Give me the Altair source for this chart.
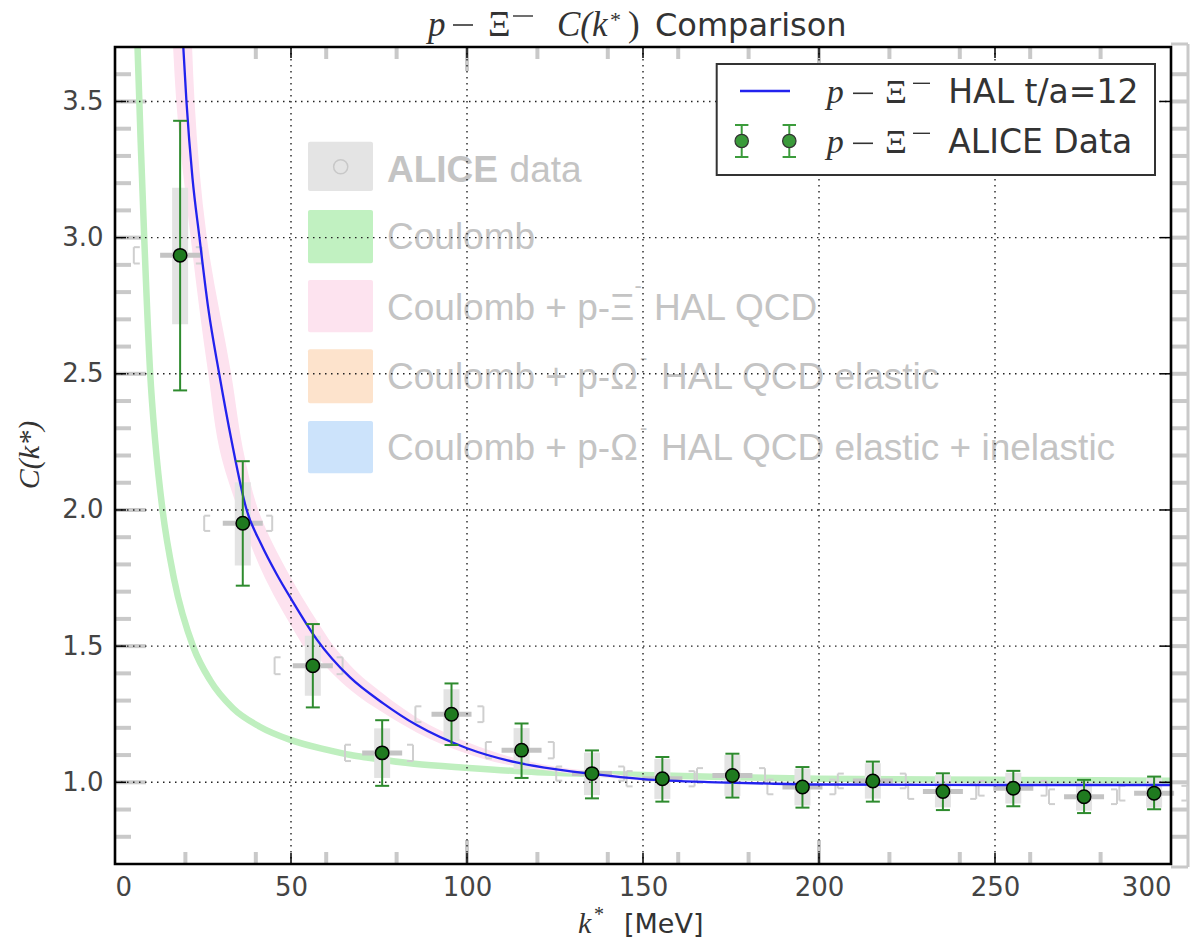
import altair as alt
import pandas as pd

# ---------------- data ----------------
# ALICE data points (green markers)
k_data = [18.5, 36.3, 56.2, 75.9, 95.6, 115.5, 135.5, 155.5, 175.4, 195.3, 215.3, 235.2, 255.2, 275.3, 295.2]
c_data = [2.935, 1.951, 1.428, 1.108, 1.250, 1.118, 1.032, 1.013, 1.025, 0.983, 1.005, 0.966, 0.978, 0.947, 0.960]
err_hi = [3.429, 2.179, 1.581, 1.228, 1.363, 1.216, 1.117, 1.093, 1.105, 1.056, 1.076, 1.033, 1.042, 1.009, 1.021]
err_lo = [2.439, 1.722, 1.275, 0.987, 1.137, 1.016, 0.941, 0.929, 0.944, 0.907, 0.929, 0.898, 0.912, 0.887, 0.901]
# gray boxes of the background ALICE figure
box_hi = [3.183, 2.102, 1.538, 1.198, 1.342, 1.199, 1.109, 1.086, 1.100, 1.050, 1.070, 1.026, 1.035, 1.000, 1.015]
box_lo = [2.682, 1.796, 1.318, 1.016, 1.152, 1.048, 0.953, 0.939, 0.950, 0.915, 0.940, 0.908, 0.922, 0.896, 0.907]
# systematic brackets of the background figure
bracket_k = [15, 35, 55, 75, 95, 115, 135, 155, 175, 195, 215, 235, 255, 275, 295]
bracket_h = [0.030, 0.028, 0.031, 0.030, 0.029, 0.030, 0.026, 0.028, 0.027, 0.027, 0.027, 0.027, 0.027, 0.027, 0.027]

# Coulomb band (green)
coul_k = [6.4, 7.3, 8.3, 10.0, 11.4, 13.5, 16.8, 22.3, 27.0, 33.5, 41.0, 50.0, 60.0, 67.0, 72.0, 85.0,
          100.0, 120.0, 136.0, 170.0, 200.0, 250.0, 300.0]
coul_c = [3.70, 3.35, 3.00, 2.50, 2.255, 2.00, 1.745, 1.495, 1.375, 1.272, 1.205, 1.155, 1.12, 1.10, 1.09, 1.068,
          1.053, 1.037, 1.031, 1.02, 1.013, 1.009, 1.006]

# HAL t/a=12 curve (blue)
hal_k = [19.4, 20.3, 22.0, 24.0, 26.5, 29.6, 33.1, 37.4, 41.5, 45.9, 50.2, 57.3, 66.8, 76.2, 85.7,
         100.0, 114.0, 125.0, 136.0, 150.0, 171.0, 186.0, 200.0, 250.0, 300.0]
hal_c = [3.70, 3.50, 3.22, 3.00, 2.74, 2.50, 2.255, 2.00, 1.875, 1.765, 1.67, 1.525, 1.385, 1.29, 1.21,
         1.125, 1.073, 1.048, 1.03, 1.012, 1.000, 0.995, 0.992, 0.990, 0.990]

# HAL QCD band (pink), steep part: k range at given C
band_c_levels = [3.70, 3.50, 3.00, 2.50, 2.19, 2.00, 1.75, 1.50]
band_k_left = [16.5, 17.4, 21.5, 26.5, 30.3, 35.0, 42.6, 53.5]
band_k_right = [21.9, 22.6, 26.1, 33.0, 36.9, 40.7, 50.0, 62.0]
# flat part: C range at given k
band_k = [50.0, 57.3, 66.8, 76.2, 85.7, 100.0, 114.0, 125.0, 136.0, 150.0, 165.0]
band_lo = [1.60, 1.465, 1.340, 1.255, 1.183, 1.105, 1.058, 1.040, 1.022, 1.006, 1.000]
band_hi = [1.74, 1.585, 1.430, 1.325, 1.238, 1.148, 1.088, 1.058, 1.040, 1.018, 1.005]

# ticks / grid
x_ticks = [0, 50, 100, 150, 200, 250, 300]
y_ticks = [1.0, 1.5, 2.0, 2.5, 3.0, 3.5]
x_grid = [50, 100, 150, 200, 250]
img_y_minor = [0.8, 0.9, 1.1, 1.2, 1.3, 1.4, 1.6, 1.7, 1.8, 1.9, 2.1, 2.2, 2.3, 2.4,
               2.6, 2.7, 2.8, 2.9, 3.1, 3.2, 3.3, 3.4, 3.6]
img_y_all = [0.8, 0.9, 1.0, 1.1, 1.2, 1.3, 1.4, 1.5, 1.6, 1.7, 1.8, 1.9, 2.0, 2.1, 2.2, 2.3, 2.4, 2.5,
             2.6, 2.7, 2.8, 2.9, 3.0, 3.1, 3.2, 3.3, 3.4, 3.5, 3.6]
img_x_minor = [20, 40, 60, 80, 120, 140, 160, 180, 220, 240, 260, 280]
img_x_major = [100, 200]

# ---------------- chart ----------------
W, H = 1056, 817
xs = alt.Scale(domain=[0, 300], nice=False, zero=False)
ys = alt.Scale(domain=[0.7, 3.7], nice=False, zero=False)
xax = alt.Axis(values=x_ticks, title=None, grid=False, domain=False, ticks=False, tickSize=0,
               labelFont="DejaVu Sans", labelFontSize=26, labelColor="#444444", labelPadding=10,
               format="d")
yax = alt.Axis(values=y_ticks, title=None, grid=False, domain=False, ticks=False, tickSize=0,
               labelFont="DejaVu Sans", labelFontSize=26, labelColor="#444444", labelPadding=12,
               format=".1f")


def X(f):
    return alt.X(f, type="quantitative", scale=xs, axis=xax)


def Y(f):
    return alt.Y(f, type="quantitative", scale=ys, axis=yax)


one = pd.DataFrame({"a": [0]})


def txt(s, x, y, size, font="DejaVu Sans", color="#333333", style="normal", weight="normal",
        align="left", baseline="alphabetic", angle=None):
    kw = dict(text=s, fontSize=size, font=font, color=color, fontStyle=style, fontWeight=weight,
              align=align, baseline=baseline)
    if angle is not None:
        kw["angle"] = angle
    return alt.Chart(one).mark_text(**kw).encode(x=alt.value(x), y=alt.value(y))


def prect(x1, x2, y1, y2, **kw):
    return alt.Chart(one).mark_rect(**kw).encode(x=alt.value(x1), x2=alt.value(x2),
                                                 y=alt.value(y1), y2=alt.value(y2))


def hline(x1, x2, y, color="#333333", w=1.6):
    return alt.Chart(one).mark_rule(color=color, strokeWidth=w).encode(
        x=alt.value(x1), x2=alt.value(x2), y=alt.value(y))


pts = pd.DataFrame({"k": k_data, "c": c_data, "lo": err_lo, "hi": err_hi,
                    "blo": box_lo, "bhi": box_hi, "bk": bracket_k, "bh": bracket_h})
pts["bt"] = pts["c"] + pts["bh"]
pts["bb"] = pts["c"] - pts["bh"]

ymin_df = pd.DataFrame({"c": img_y_minor})
yall_df = pd.DataFrame({"c": img_y_all})
ymaj_df = pd.DataFrame({"c": y_ticks})
xmin_df = pd.DataFrame({"k": img_x_minor})
xmaj_df = pd.DataFrame({"k": img_x_major})
xgrid_df = pd.DataFrame({"k": x_grid})
xtick_df = pd.DataFrame({"k": x_ticks})

GRAY_T = "#c9c9c9"
layers = []

# background-image ticks (gray)
layers.append(alt.Chart(ymin_df).mark_rule(color=GRAY_T, strokeWidth=4).encode(
    y=Y("c"), x=alt.value(1), x2=alt.value(16)))
layers.append(alt.Chart(ymaj_df).mark_rule(color=GRAY_T, strokeWidth=4).encode(
    y=Y("c"), x=alt.value(1), x2=alt.value(31)))
layers.append(alt.Chart(yall_df).mark_rule(color=GRAY_T, strokeWidth=4).encode(
    y=Y("c"), x=alt.value(1057), x2=alt.value(1073)))
layers.append(alt.Chart(one).mark_rule(color=GRAY_T, strokeWidth=3).encode(
    x=alt.value(1073), y=alt.value(-3), y2=alt.value(H + 3)))
layers.append(alt.Chart(one).mark_rule(color=GRAY_T, strokeWidth=3).encode(
    y=alt.value(-3), x=alt.value(W), x2=alt.value(1073)))
layers.append(alt.Chart(one).mark_rule(color=GRAY_T, strokeWidth=3).encode(
    y=alt.value(H + 3), x=alt.value(W), x2=alt.value(1073)))
layers.append(alt.Chart(xmin_df).mark_rule(color=GRAY_T, strokeWidth=4).encode(
    x=X("k"), y=alt.value(H - 12), y2=alt.value(H)))
layers.append(alt.Chart(xmaj_df).mark_rule(color=GRAY_T, strokeWidth=4).encode(
    x=X("k"), y=alt.value(H - 24), y2=alt.value(H)))
layers.append(alt.Chart(xmin_df).mark_rule(color=GRAY_T, strokeWidth=4).encode(
    x=X("k"), y=alt.value(0), y2=alt.value(12)))
layers.append(alt.Chart(xmaj_df).mark_rule(color=GRAY_T, strokeWidth=4).encode(
    x=X("k"), y=alt.value(0), y2=alt.value(24)))

# Coulomb band
coul_df = pd.DataFrame({"k": coul_k, "c": coul_c})
layers.append(alt.Chart(coul_df).mark_line(color="#bfefbf", strokeWidth=6.5, interpolate="monotone",
                                           clip=True).encode(x=X("k"), y=Y("c"), order="k:Q"))

# HAL QCD band
PINK = "#fde2ef"
bandh_df = pd.DataFrame({"c": band_c_levels, "kl": band_k_left, "kr": band_k_right})
layers.append(alt.Chart(bandh_df).mark_area(color=PINK, orient="horizontal", interpolate="monotone",
                                            clip=True, opacity=1).encode(
    y=Y("c"), x=X("kl"), x2="kr:Q"))
bandv_df = pd.DataFrame({"k": band_k, "lo": band_lo, "hi": band_hi})
layers.append(alt.Chart(bandv_df).mark_area(color=PINK, orient="vertical", interpolate="monotone",
                                            clip=True, opacity=1).encode(
    x=X("k"), y=Y("lo"), y2="hi:Q"))

# gray ALICE boxes / bars / brackets
layers.append(alt.Chart(pts).mark_rect(color="#e3e3e3", xOffset=-8, x2Offset=8).encode(
    x=X("k"), x2="k:Q", y=Y("blo"), y2="bhi:Q"))
layers.append(alt.Chart(pts).mark_rule(color="#c4c4c4", strokeWidth=5, xOffset=-20, x2Offset=20).encode(
    x=X("k"), x2="k:Q", y=Y("c")))
BR = "#cfcfcf"
for off in (-34, 34):
    layers.append(alt.Chart(pts).mark_rule(color=BR, strokeWidth=2, xOffset=off).encode(
        x=X("bk"), y=Y("bb"), y2="bt:Q"))
    inner = off + (6 if off < 0 else -6)
    for yf in ("bt", "bb"):
        layers.append(alt.Chart(pts).mark_rule(color=BR, strokeWidth=2, xOffset=min(off, inner),
                                               x2Offset=max(off, inner)).encode(
            x=X("bk"), x2="bk:Q", y=Y(yf)))

# background ALICE legend
layers.append(prect(193, 258, 94.7, 144, color="#e4e4e4", cornerRadius=2))
layers.append(prect(193, 258, 163, 216.3, color="#c1f1c1", cornerRadius=2))
layers.append(prect(193, 258, 233, 285.3, color="#fde3ef", cornerRadius=2))
layers.append(prect(193, 258, 302.3, 356.3, color="#fde3cc", cornerRadius=2))
layers.append(prect(193, 258, 374, 426.3, color="#cce3fb", cornerRadius=2))
layers.append(alt.Chart(one).mark_point(shape="circle", filled=False, size=200, color="#c8c8c8",
                                        strokeWidth=1.5, opacity=1).encode(
    x=alt.value(225.7), y=alt.value(119.7)))
LG = "#c4c4c4"
LF = "Liberation Sans"
layers.append(txt("ALICE", 272, 134.7, 37, font=LF, color=LG, weight="bold"))
layers.append(txt("data", 394.6, 134.7, 37, font=LF, color=LG))
layers.append(txt("Coulomb", 272, 202.3, 37, font=LF, color=LG))
layers.append(txt("Coulomb + p-\u039e", 272, 273, 37, font=LF, color=LG))
layers.append(txt("-", 519.6, 246.3, 22, font=LF, color=LG))
layers.append(txt("HAL QCD", 539, 273, 37, font=LF, color=LG))
layers.append(txt("Coulomb + p-\u03a9", 272, 342, 37, font=LF, color=LG))
layers.append(txt("-", 525, 317.6, 22, font=LF, color=LG))
layers.append(txt("HAL QCD elastic", 546, 342, 37, font=LF, color=LG))
layers.append(txt("Coulomb + p-\u03a9", 272, 413, 37, font=LF, color=LG))
layers.append(txt("-", 525, 387.7, 22, font=LF, color=LG))
layers.append(txt("HAL QCD elastic + inelastic", 546, 413, 37, font=LF, color=LG))

# dotted grid
GRID = dict(color="#222222", strokeWidth=1.4, strokeDash=[1.5, 4.5])
layers.append(alt.Chart(xgrid_df).mark_rule(**GRID).encode(x=X("k"), y=alt.value(0), y2=alt.value(H)))
layers.append(alt.Chart(ymaj_df).mark_rule(**GRID).encode(y=Y("c"), x=alt.value(0), x2=alt.value(W)))

# black inward ticks
TK = dict(color="#000000", strokeWidth=1.5)
layers.append(alt.Chart(ymaj_df).mark_rule(**TK).encode(y=Y("c"), x=alt.value(0), x2=alt.value(11)))
layers.append(alt.Chart(ymaj_df).mark_rule(**TK).encode(y=Y("c"), x=alt.value(W - 11), x2=alt.value(W)))
layers.append(alt.Chart(xtick_df).mark_rule(**TK).encode(x=X("k"), y=alt.value(H - 11), y2=alt.value(H)))
layers.append(alt.Chart(xtick_df).mark_rule(**TK).encode(x=X("k"), y=alt.value(0), y2=alt.value(11)))

# HAL t/a=12 line
hal_df = pd.DataFrame({"k": hal_k, "c": hal_c})
layers.append(alt.Chart(hal_df).mark_line(color="#2222ee", strokeWidth=2.3, interpolate="monotone",
                                          clip=True).encode(x=X("k"), y=Y("c"), order="k:Q"))

# error bars and points
EB = "#2e8b2e"
layers.append(alt.Chart(pts).mark_rule(color=EB, strokeWidth=2).encode(x=X("k"), y=Y("lo"), y2="hi:Q"))
for yf in ("lo", "hi"):
    layers.append(alt.Chart(pts).mark_rule(color=EB, strokeWidth=2, xOffset=-7, x2Offset=7).encode(
        x=X("k"), x2="k:Q", y=Y(yf)))
layers.append(alt.Chart(pts).mark_circle(size=180, color="#1f7a1f", stroke="#000000", strokeWidth=1.5,
                                         opacity=1).encode(x=X("k"), y=Y("c")))

# frame
layers.append(prect(0, W, 0, H, fillOpacity=0, stroke="#000000", strokeWidth=2.6))

# matplotlib legend
layers.append(prect(601.7, 1040, 17, 128, fill="#ffffff", stroke="#333333", strokeWidth=2))
layers.append(alt.Chart(one).mark_rule(color="#2222ee", strokeWidth=2.3).encode(
    x=alt.value(625), x2=alt.value(675), y=alt.value(44)))
LEB = "#3c9c3c"
for lx in (626.7, 674.3):
    layers.append(alt.Chart(one).mark_rule(color=LEB, strokeWidth=2).encode(
        x=alt.value(lx), y=alt.value(78), y2=alt.value(110)))
    for ly in (78, 110):
        layers.append(alt.Chart(one).mark_rule(color=LEB, strokeWidth=2).encode(
            x=alt.value(lx - 6.7), x2=alt.value(lx + 6.7), y=alt.value(ly)))
    layers.append(alt.Chart(one).mark_circle(size=180, color="#3a9a3a", stroke="#333333",
                                             strokeWidth=1.2, opacity=1).encode(
        x=alt.value(lx), y=alt.value(94)))
SF = "Liberation Serif"
for by in (56.3, 106.3):
    layers.append(txt("p", 711.7, by, 34, font=SF, color="#333333", style="italic"))
    layers.append(hline(738, 758, by - 10))
    layers.append(txt("\u039e", 770, by, 34, font=SF, color="#333333"))
    layers.append(hline(798, 815, by - 20, w=1.4))
layers.append(txt("HAL t/a=12", 833.3, 56.3, 33, color="#333333"))
layers.append(txt("ALICE Data", 833.3, 106.3, 33, color="#333333"))

# title
layers.append(txt("p", 313, -11, 35, font=SF, color="#333333", style="italic"))
layers.append(hline(338, 358, -22))
layers.append(txt("\u039e", 373, -11, 35, font=SF, color="#333333"))
layers.append(hline(398, 418, -31, w=1.4))
layers.append(txt("C(k", 442, -11, 35, font=SF, color="#333333", style="italic"))
layers.append(txt("*", 495, -20, 22, font=SF, color="#333333"))
layers.append(txt(")", 513, -11, 35, font=SF, color="#333333"))
layers.append(txt("Comparison", 540, -11, 32, color="#333333"))

# axis titles
layers.append(txt("k", 463, 886, 30, font=SF, color="#333333", style="italic"))
layers.append(txt("*", 479, 874, 20, font=SF, color="#333333"))
layers.append(txt("[MeV]", 509, 886, 27, color="#333333"))
layers.append(txt("C(k*)", -85, 408, 30, font=SF, color="#333333", style="italic",
                  align="center", baseline="middle", angle=270))

chart = alt.layer(*layers).properties(
    width=W, height=H,
    padding={"left": 115, "top": 47, "right": 30, "bottom": 79},
    autosize=alt.AutoSizeParams(type="none"),
).configure_view(stroke=None).configure(background="white")

chart.save("out.html", embed_options={"renderer": "svg", "actions": False})
